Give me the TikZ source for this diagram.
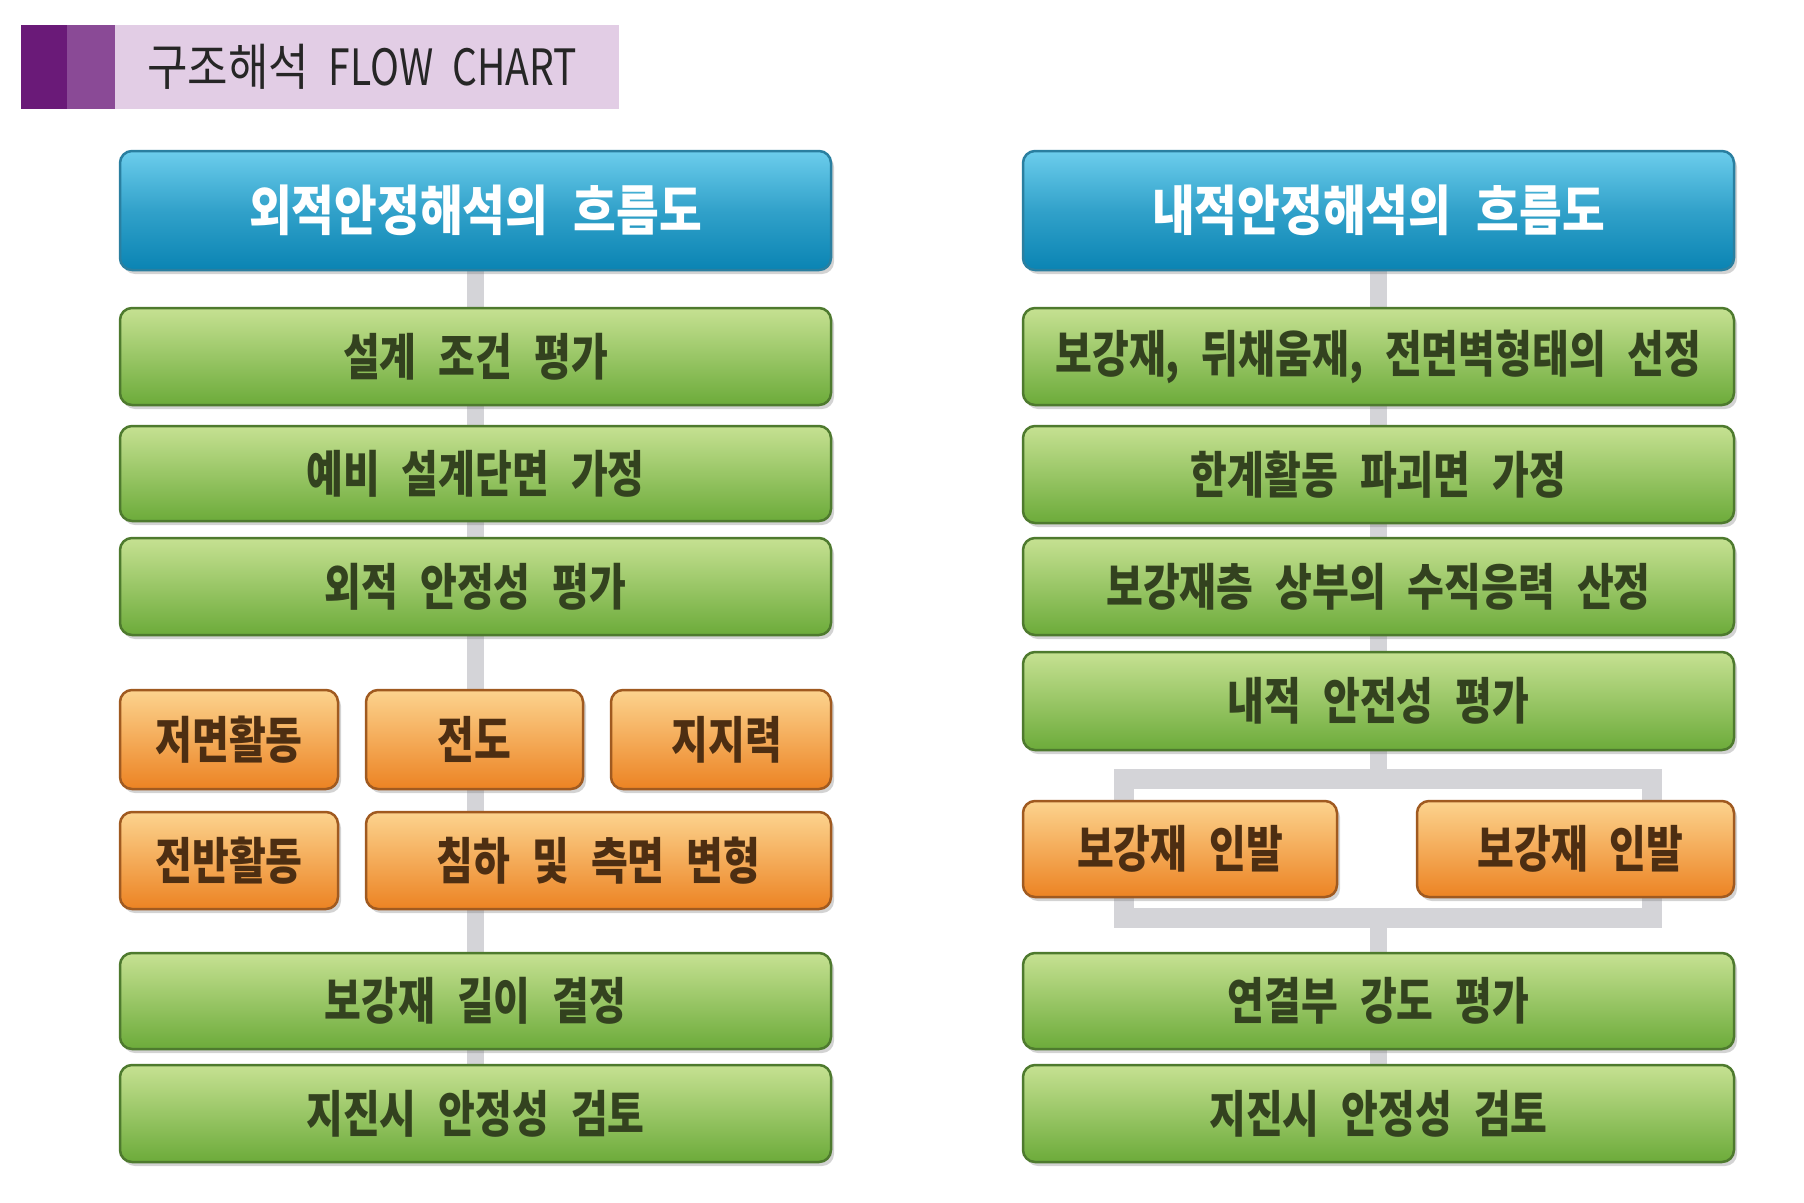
\documentclass[tikz,border=0pt]{standalone}
\usepackage{fontspec}
\setmainfont{Noto Sans CJK KR}
\newfontfamily\krc[FakeStretch=0.8, WordSpace=2.4]{Noto Sans CJK KR}
\newfontfamily\krh[FakeStretch=0.86, WordSpace=2.4]{Noto Sans CJK KR}
\newfontfamily\krt[FakeStretch=0.88, WordSpace=2.0]{Noto Sans CJK KR}
\newfontfamily\krl[FakeStretch=0.78, WordSpace=2.2]{Noto Sans CJK KR}
\usetikzlibrary{shadows,backgrounds}
\definecolor{titlebg}{HTML}{E2CDE5}
\definecolor{titledark}{HTML}{6A1A78}
\definecolor{titlemid}{HTML}{8A4A96}
\definecolor{bluetop}{HTML}{6CCDEC}
\definecolor{bluebot}{HTML}{0A84B3}
\definecolor{blueedge}{HTML}{2A7FA0}
\definecolor{greentop}{HTML}{C6E192}
\definecolor{greenbot}{HTML}{6CAB3A}
\definecolor{greenedge}{HTML}{4E7A2E}
\definecolor{greentext}{HTML}{33421F}
\definecolor{orgtop}{HTML}{FCD38E}
\definecolor{orgbot}{HTML}{EC8323}
\definecolor{orgedge}{HTML}{A05A20}
\definecolor{orgtext}{HTML}{4D2E12}
\definecolor{connc}{HTML}{D4D4D8}
\tikzset{
  boxbase/.style={rounded corners=12pt, line width=2.5pt, align=center, inner sep=0pt,
    drop shadow={opacity=0.35, shadow xshift=3pt, shadow yshift=-4pt}},
  hbox/.style={boxbase, draw=blueedge, top color=bluetop, bottom color=bluebot,
    middle color=bluetop!40!bluebot, text=white,
    font=\krh\bfseries\fontsize{54}{60}\selectfont, minimum width=711pt, minimum height=119pt},
  gbox/.style={boxbase, draw=greenedge, top color=greentop, bottom color=greenbot,
    text=greentext, font=\krc\bfseries\fontsize{50}{58}\selectfont, minimum width=711pt, minimum height=97pt},
  obox/.style={boxbase, draw=orgedge, top color=orgtop, bottom color=orgbot,
    text=orgtext, font=\krc\bfseries\fontsize{50}{58}\selectfont, minimum height=97pt},
  conn/.style={draw=connc, line width=17pt},
}
\begin{document}
\begin{tikzpicture}[x=1pt,y=-1pt]
\useasboundingbox (0,0) rectangle (1804,1202);
% title bar
\fill[titlebg] (21,25) rectangle (619,109);
\fill[titledark] (21,25) rectangle (67,109);
\fill[titlemid] (67,25) rectangle (115,109);
\node[anchor=west, inner sep=0pt, font=\krt\fontsize{50}{56}\selectfont, text=black!85] (title) at (147,67) {구조해석 {\krl FLOW CHART}};

% left column
\node[hbox] (lh) at (475.5,210.5) {외적안정해석의 흐름도};
\node[gbox] (l1) at (475.5,356.5) {설계 조건 평가};
\node[gbox, minimum height=95pt] (l2) at (475.5,473.5) {예비 설계단면 가정};
\node[gbox] (l3) at (475.5,586.5) {외적 안정성 평가};
\node[obox, minimum width=218pt, minimum height=99pt] (o1) at (229,739.5) {저면활동};
\node[obox, minimum width=217pt, minimum height=99pt] (o2) at (474.5,739.5) {전도};
\node[obox, minimum width=220pt, minimum height=99pt] (o3) at (721,739.5) {\hspace*{12pt}지지력};
\node[obox, minimum width=218pt] (o4) at (229,860.5) {전반활동};
\node[obox, minimum width=465pt] (o5) at (598.5,860.5) {침하 및 측면 변형};
\node[gbox, minimum height=96pt] (l4) at (475.5,1001) {보강재 길이 결정};
\node[gbox] (l5) at (475.5,1113.5) {지진시 안정성 검토};

% right column
\node[hbox] (rh) at (1378.5,210.5) {내적안정해석의 흐름도};
\node[gbox] (r1) at (1378.5,356.5) {보강재, 뒤채움재, 전면벽형태의 선정};
\node[gbox] (r2) at (1378.5,474.5) {한계활동 파괴면 가정};
\node[gbox] (r3) at (1378.5,586.5) {보강재층 상부의 수직응력 산정};
\node[gbox, minimum height=98pt] (r4) at (1378.5,701) {내적 안전성 평가};
\node[obox, minimum width=314pt, minimum height=96pt] (ro1) at (1180,849) {보강재 인발};
\node[obox, minimum width=317pt, minimum height=96pt] (ro2) at (1575.5,849) {\hspace*{10pt}보강재 인발};
\node[gbox, minimum height=96pt] (r5) at (1378.5,1001) {연결부 강도 평가};
\node[gbox] (r6) at (1378.5,1113.5) {지진시 안정성 검토};

\coordinate (bTL) at (1124,779);
\coordinate (bBR) at (1652,918);

\begin{scope}[on background layer]
  \draw[conn] (lh.south) -- (lh.south |- l5.north);
  \draw[conn] (rh.south) -- (rh.south |- r4.north);
  \draw[conn] (r4.south) -- (r4.south |- bTL);
  \draw[conn, line width=20pt] (bTL) rectangle (bBR);
  \draw[conn] (r5.north |- bBR) -- (r5.north);
  \draw[conn] (r5.south) -- (r6.north);
\end{scope}
\end{tikzpicture}
\end{document}
